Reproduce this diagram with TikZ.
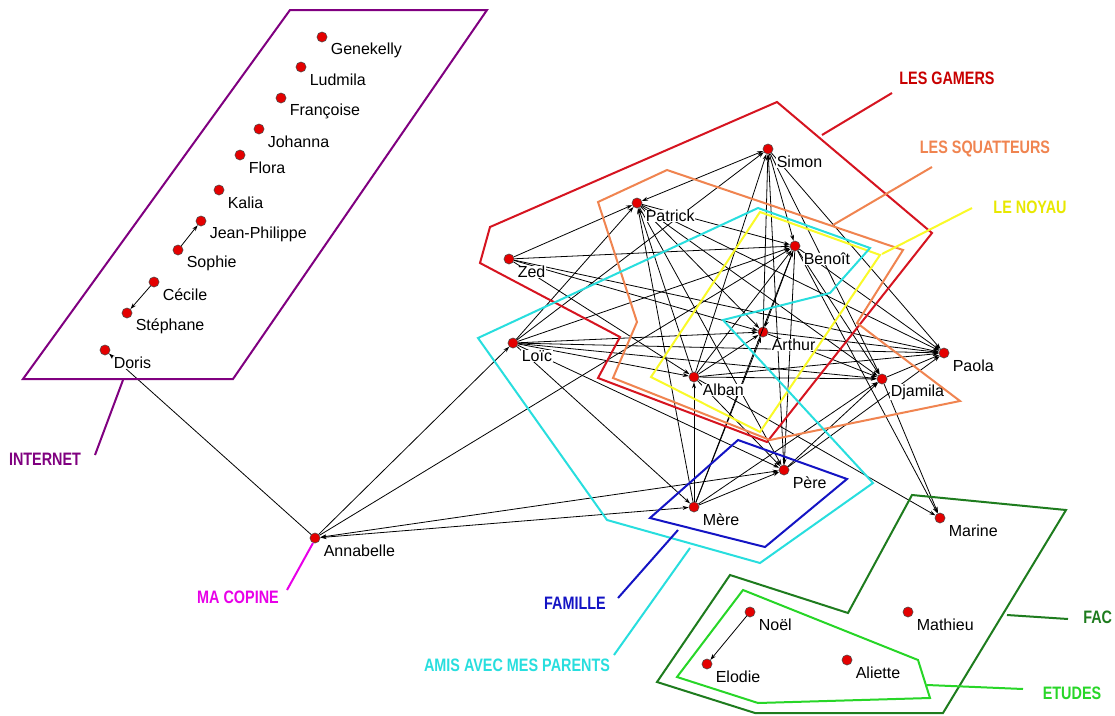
\documentclass[tikz,border=0pt]{standalone}
\usepackage{fontspec}
\setmainfont{Liberation Sans}
\newfontfamily\grpfont[FakeStretch=0.8]{Liberation Sans}
\usetikzlibrary{arrows.meta}
\definecolor{dotred}{RGB}{228,0,0}
\definecolor{cpurple}{RGB}{128,0,128}
\definecolor{cred}{RGB}{214,20,32}
\definecolor{credlab}{RGB}{200,0,0}
\definecolor{corange}{RGB}{240,132,80}
\definecolor{cyellow}{RGB}{250,250,40}
\definecolor{cyellowlab}{RGB}{232,232,0}
\definecolor{ccyan}{RGB}{40,222,222}
\definecolor{cblue}{RGB}{20,20,196}
\definecolor{cmagenta}{RGB}{232,0,232}
\definecolor{cdkgreen}{RGB}{30,124,30}
\definecolor{cltgreen}{RGB}{40,214,40}
\begin{document}
\begin{tikzpicture}[x=0.75pt,y=-0.75pt,
  dot/.style={circle,fill=dotred,draw=black!70,line width=0.4pt,minimum size=7.6pt,inner sep=0pt},
  lbl/.style={anchor=west,fill=white,inner sep=0.4pt,font=\fontsize{12}{14}\selectfont},
  edge/.style={draw=black,line width=0.6pt,-{Stealth[length=4.5pt,width=3pt]}},
  edgeb/.style={draw=black,line width=0.6pt,{Stealth[length=4.5pt,width=3pt]}-{Stealth[length=4.5pt,width=3pt]}},
  grp/.style={line width=1.5pt,line join=miter},
  lead/.style={line width=1.5pt},
  glabel/.style={font=\grpfont\bfseries\fontsize{13.5}{15}\selectfont,inner sep=0pt}]
\useasboundingbox (0,0) rectangle (1115,715);
\fill[white] (0,0) rectangle (1115,715);

% persons (dots)
\foreach \n/\x/\y in {genekelly/322/37, ludmila/301/67, francoise/281/98, johanna/259/129,
  flora/240/155, kalia/219/190, jeanphilippe/201/221, sophie/178/250, cecile/154/282,
  stephane/127/313, doris/105/350, annabelle/315/538, simon/768/149, patrick/637/203,
  zed/509/259, benoit/795/246, loic/513/343, arthur/763/332, alban/694/377, paola/944/353,
  djamila/882/379, pere/784/470, mere/694/507, marine/940/518, mathieu/908/612,
  noel/750/612, elodie/707/664, aliette/847/660}
  \node[dot] (\n) at (\x,\y) {};

% connectors
\foreach \a/\b in {annabelle/doris, sophie/jeanphilippe, cecile/stephane, noel/elodie,
  annabelle/loic, annabelle/benoit,
  loic/simon, alban/simon, arthur/simon, pere/simon, simon/benoit, simon/djamila, simon/paola,
  zed/patrick, loic/patrick, alban/patrick, mere/patrick,
  patrick/benoit, patrick/arthur, patrick/djamila, patrick/paola, patrick/pere,
  zed/benoit, zed/arthur, zed/paola, zed/alban,
  loic/benoit, loic/arthur, loic/alban, loic/djamila, loic/paola, loic/pere, loic/mere,
  benoit/arthur, alban/benoit, mere/benoit, benoit/pere, benoit/djamila, benoit/paola, benoit/marine,
  arthur/paola, arthur/djamila, alban/arthur, mere/arthur,
  alban/djamila, alban/paola, alban/pere, mere/alban, alban/marine,
  djamila/paola, djamila/marine, mere/djamila, pere/djamila, pere/paola, mere/pere}
  \draw[edge] (\a) -- (\b);
\foreach \a/\b in {annabelle/pere, annabelle/mere, simon/patrick}
  \draw[edgeb] (\a) -- (\b);

% names
\foreach \n/\t in {genekelly/Genekelly, ludmila/Ludmila, francoise/Françoise, johanna/Johanna,
  flora/Flora, kalia/Kalia, jeanphilippe/Jean-Philippe, sophie/Sophie, cecile/Cécile,
  stephane/Stéphane, doris/Doris, annabelle/Annabelle, simon/Simon, patrick/Patrick,
  zed/Zed, benoit/Benoît, loic/Loïc, arthur/Arthur, alban/Alban, paola/Paola,
  djamila/Djamila, pere/Père, mere/Mère, marine/Marine, mathieu/Mathieu,
  noel/Noël, elodie/Elodie, aliette/Aliette}
  \path (\n.center) ++(8,13) node[lbl] (\n-t) {\t};

% groups
\draw[grp,cpurple] (290,10) -- (487,10) -- (233,379) -- (23,379) -- cycle;
\draw[grp,cred] (490,227) -- (777,102) -- (932,233) -- (767,442) -- (598,378) -- (620,337) -- (480,263) -- cycle;
\draw[grp,corange] (598,202) -- (667,170) -- (903,250) -- (857,323) -- (960,401) -- (770,440) -- (613,378) -- (637,322) -- cycle;
\draw[grp,cyellow] (760,212) -- (880,255) -- (760,432) -- (651,377) -- cycle;
\draw[grp,ccyan] (478,338) -- (758,208) -- (870,248) -- (830,293) -- (723,320) -- (873,483) -- (760,563) -- (607,520) -- cycle;
\draw[grp,cblue] (738,440) -- (847,479) -- (765,547) -- (650,518) -- cycle;
\draw[grp,cdkgreen] (912,495) -- (1066,510) -- (943,713) -- (755,713) -- (657,682) -- (730,575) -- (848,613) -- cycle;
\draw[grp,cltgreen] (743,590) -- (918,660) -- (930,698) -- (758,703) -- (677,677) -- cycle;

% leader lines
\coordinate (gamA) at (822,135); \coordinate (gamB) at (892,93);
\coordinate (squA) at (833,225); \coordinate (squB) at (932,167);
\coordinate (noyA) at (882,254); \coordinate (noyB) at (972,208);
\coordinate (facA) at (1007,615); \coordinate (facB) at (1068,619);
\coordinate (etuA) at (927,685); \coordinate (etuB) at (1023,689);
\coordinate (famA) at (678,530); \coordinate (famB) at (618,598);
\coordinate (amiA) at (690,548); \coordinate (amiB) at (614,655);
\coordinate (copA) at (313,543); \coordinate (copB) at (287,590);
\coordinate (intA) at (123,380); \coordinate (intB) at (95,455);
\draw[lead,cred] (gamA) -- (gamB);
\draw[lead,corange] (squA) -- (squB);
\draw[lead,cyellow] (noyA) -- (noyB);
\draw[lead,cdkgreen] (facA) -- (facB);
\draw[lead,cltgreen] (etuA) -- (etuB);
\draw[lead,cblue] (famA) -- (famB);
\draw[lead,ccyan] (amiA) -- (amiB);
\draw[lead,cmagenta] (copA) -- (copB);
\draw[lead,cpurple] (intA) -- (intB);

% group labels
\node[glabel,text=credlab] (gamers) at (947,78) {LES GAMERS};
\node[glabel,text=corange] (squatteurs) at (985,149) {LES SQUATTEURS};
\node[glabel,text=cyellowlab] (noyau) at (1030,207) {LE NOYAU};
\node[glabel,text=cdkgreen,anchor=west] (fac) at (1083,617) {FAC};
\node[glabel,text=cltgreen] (etudes) at (1072,693) {ETUDES};
\node[glabel,text=cblue] (famille) at (575,603) {FAMILLE};
\node[glabel,text=ccyan] (amis) at (517,665) {AMIS AVEC MES PARENTS};
\node[glabel,text=cmagenta] (copine) at (238,597) {MA COPINE};
\node[glabel,text=cpurple] (internet) at (45,459) {INTERNET};
\end{tikzpicture}
\end{document}
